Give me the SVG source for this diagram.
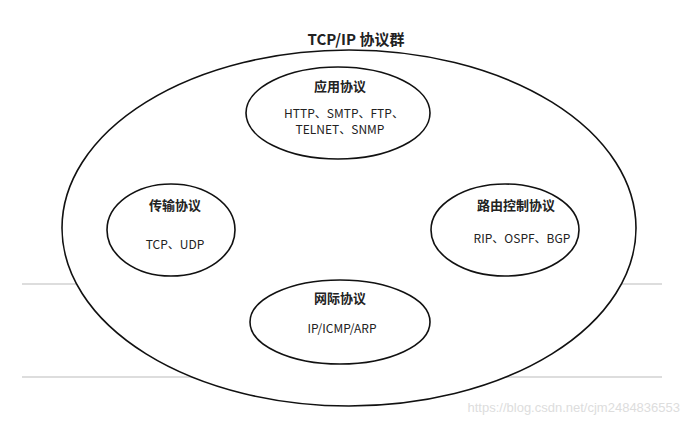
<svg xmlns="http://www.w3.org/2000/svg" width="688" height="424" viewBox="0 0 688 424">
<style>
.e{fill:#fff;stroke:#111;stroke-width:1.6}
.t{font-family:"Noto Sans CJK SC","Noto Sans",sans-serif;font-size:12px;fill:#222;text-anchor:middle}
.b{font-weight:bold;font-size:13px}
.ln{stroke:#bbb;stroke-width:1}
</style>
<rect width="688" height="424" fill="#fff"/>
<g id="lines"><line class="ln" x1="22" y1="284" x2="662" y2="284"/><line class="ln" x1="22" y1="377" x2="662" y2="377"/></g>
<g id="suite"><ellipse class="e" cx="349" cy="228" rx="287" ry="178"/>
<text class="t b" x="356" y="45" style="font-size:15px">TCP/IP 协议群</text></g>
<g id="app"><ellipse class="e" cx="338" cy="113" rx="92" ry="46"/>
<text class="t b" x="340" y="91">应用协议</text>
<text class="t" x="344" y="118">HTTP、SMTP、FTP、</text>
<text class="t" x="340" y="134">TELNET、SNMP</text></g>
<g id="transport"><ellipse class="e" cx="171" cy="230" rx="64" ry="46"/>
<text class="t b" x="175" y="210">传输协议</text>
<text class="t" x="175" y="249">TCP、UDP</text></g>
<g id="routing"><ellipse class="e" cx="505" cy="230" rx="74" ry="46"/>
<text class="t b" x="516" y="210">路由控制协议</text>
<text class="t" x="522" y="243">RIP、OSPF、BGP</text></g>
<g id="network"><ellipse class="e" cx="340" cy="322" rx="90" ry="42"/>
<text class="t b" x="340" y="303">网际协议</text>
<text class="t" x="342" y="333">IP/ICMP/ARP</text></g>
<g id="connectors"/>
<text x="680" y="412" style="font-family:'Liberation Sans',sans-serif;font-size:13px;fill:#ddd;text-anchor:end">https://blog.csdn.net/cjm2484836553</text>
</svg>
